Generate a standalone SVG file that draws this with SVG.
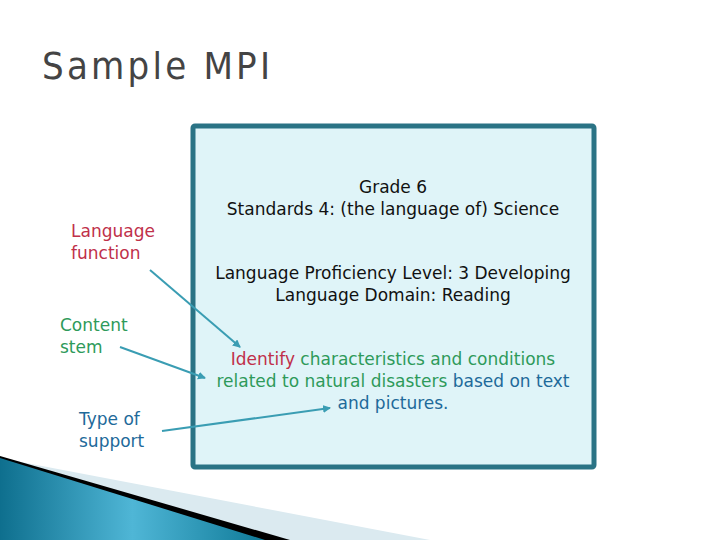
<svg xmlns="http://www.w3.org/2000/svg" width="720" height="540" viewBox="0 0 720 540">
<defs>
<style>
text{font-family:"DejaVu Sans","Noto Sans",sans-serif;font-size:17px}
.k{fill:#111}.r{fill:#c0304a}.g{fill:#2e9a5a}.b{fill:#1e6a9a}
.c{stroke:#3a9db3;stroke-width:2;fill:none;marker-end:url(#a)}
</style>
<marker id="a" markerWidth="8" markerHeight="8" refX="7" refY="4" orient="auto" markerUnits="userSpaceOnUse"><path d="M0,0L8,4L0,8z" fill="#3a9db3"/></marker>
<linearGradient id="bl" x1="0" y1="0" x2="1" y2="0"><stop offset="0" stop-color="#0e6f8e"/><stop offset="0.5" stop-color="#4fb6d6"/><stop offset="1" stop-color="#0f7a98"/></linearGradient>
</defs>
<rect width="720" height="540" fill="#fff"/>
<text x="42" y="79" style="font-size:38px;font-family:'DejaVu Sans Condensed','DejaVu Sans',sans-serif" fill="#444" textLength="228">Sample MPI</text>
<polygon points="0,458 430,540 0,540" fill="#dbeaf0"/>
<polygon points="0,456 290,540 0,540" fill="#000"/>
<polygon points="0,458 265,540 0,540" fill="url(#bl)"/>
<g id="box"><rect x="193" y="126" width="401" height="341" rx="2" fill="#dff4f8" stroke="#2a7385" stroke-width="5"/>
<text x="393" y="193" text-anchor="middle" class="k">Grade 6</text>
<text x="393" y="215" text-anchor="middle" class="k">Standards 4: (the language of) Science</text>
<text x="393" y="279" text-anchor="middle" class="k">Language Proficiency Level: 3 Developing</text>
<text x="393" y="301" text-anchor="middle" class="k">Language Domain: Reading</text>
<text x="393" y="365" text-anchor="middle"><tspan class="r">Identify</tspan><tspan class="g"> characteristics and conditions</tspan></text>
<text x="393" y="387" text-anchor="middle"><tspan class="g">related to natural disasters </tspan><tspan class="b">based on text</tspan></text>
<text x="393" y="409" text-anchor="middle" class="b">and pictures.</text></g>
<g id="lf"><text x="71" y="237" class="r">Language</text><text x="71" y="259" class="r">function</text></g>
<g id="cs"><text x="60" y="331" class="g">Content</text><text x="60" y="353" class="g">stem</text></g>
<g id="ts"><text x="79" y="425" class="b">Type of</text><text x="79" y="447" class="b">support</text></g>
<g id="connectors">
<line class="c" x1="150" y1="270" x2="240" y2="347"/>
<line class="c" x1="120" y1="347" x2="205" y2="378"/>
<line class="c" x1="162" y1="431" x2="330" y2="408"/>
</g>
</svg>
